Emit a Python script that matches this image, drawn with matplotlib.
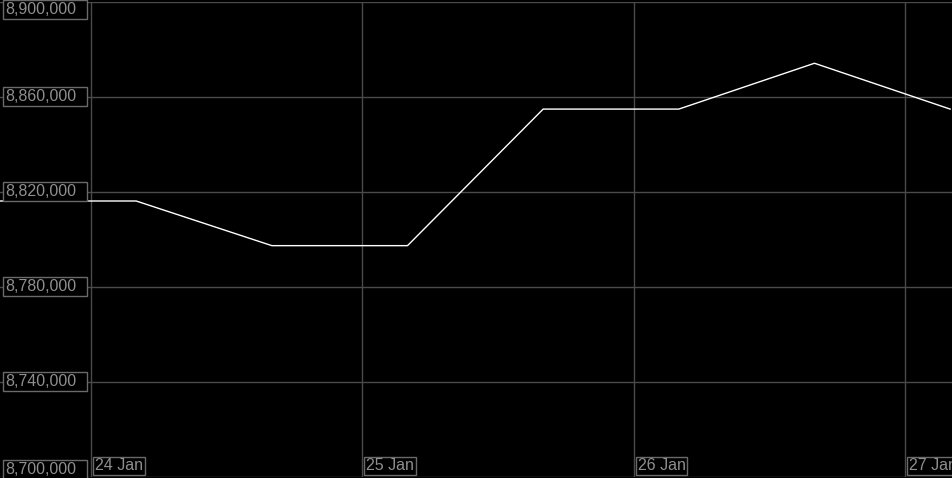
import datetime as dt
import matplotlib
matplotlib.use('Agg')
from matplotlib import pyplot as plt
from matplotlib import dates as mpl_dates
from matplotlib import transforms as mtransforms
from matplotlib.path import Path

times = [dt.datetime(2023, 1, 23, 16), dt.datetime(2023, 1, 24, 4),
         dt.datetime(2023, 1, 24, 16), dt.datetime(2023, 1, 25, 4),
         dt.datetime(2023, 1, 25, 16), dt.datetime(2023, 1, 26, 4),
         dt.datetime(2023, 1, 26, 16), dt.datetime(2023, 1, 27, 4)]
values = [8816000, 8816000, 8797200, 8797200, 8854700, 8854700, 8874000, 8854700]

y_ticks = [8700000, 8740000, 8780000, 8820000, 8860000, 8900000]
x_ticks = [dt.datetime(2023, 1, 24), dt.datetime(2023, 1, 25),
           dt.datetime(2023, 1, 26), dt.datetime(2023, 1, 27)]
x_labels = ['24 Jan', '25 Jan', '26 Jan', '27 Jan']

W, H = 953, 478
fig = plt.figure(figsize=(W / 100, H / 100), dpi=100, facecolor='black')
ax = fig.add_axes([0, 1.5 / H, 1, 475 / H], facecolor='black')

ax.plot(mpl_dates.date2num(times), values, color='white', lw=1.0, zorder=3)

px_day = 271.3
left = mpl_dates.date2num(x_ticks[0]) - 91 / px_day
ax.set_xlim(left, left + W / px_day)
ax.set_ylim(8700000, 8900000)

grid_c = '#4a4a4a'
for y in y_ticks:
    ax.axhline(y, color=grid_c, lw=1, zorder=1)
for x in x_ticks:
    ax.axvline(mpl_dates.date2num(x), color=grid_c, lw=1, zorder=1)

ax.set_xticks([])
ax.set_yticks([])
for s in ax.spines.values():
    s.set_visible(False)


# label box, a bit wider on the right like the original
def wide_box(x0, y0, width, height, mutation_size):
    p = 2
    x1, y1 = x0 + width + 11, y0 + height + p
    x0, y0 = x0 - p, y0 - p
    return Path([(x0, y0), (x1, y0), (x1, y1), (x0, y1), (x0, y0)], closed=True)


ybox = dict(boxstyle=wide_box, facecolor='black', edgecolor='#6a6a6a', lw=1)
xbox = dict(boxstyle='square,pad=0.12', facecolor='black', edgecolor='#6a6a6a', lw=1)
txt_c = '#8f8f8f'

ytrans = mtransforms.blended_transform_factory(ax.transAxes, ax.transData)
for i, y in enumerate(y_ticks):
    va = 'center'
    if i == 0:
        va = 'bottom'
    elif i == len(y_ticks) - 1:
        va = 'top'
    ax.text(5 / W, y, '{:,}'.format(y), transform=ytrans, ha='left', va=va,
            color=txt_c, fontsize=11.5, family='Liberation Sans', bbox=ybox, zorder=4)

xtrans = mtransforms.blended_transform_factory(ax.transData, ax.transAxes)
for x, lab in zip(x_ticks, x_labels):
    ax.text(mpl_dates.date2num(x) + 4 / px_day, 3 / 475, lab, transform=xtrans,
            ha='left', va='bottom', color=txt_c, fontsize=11.5,
            family='Liberation Sans', bbox=xbox, zorder=4)

fig.savefig('out.png', dpi=100, facecolor='black')
